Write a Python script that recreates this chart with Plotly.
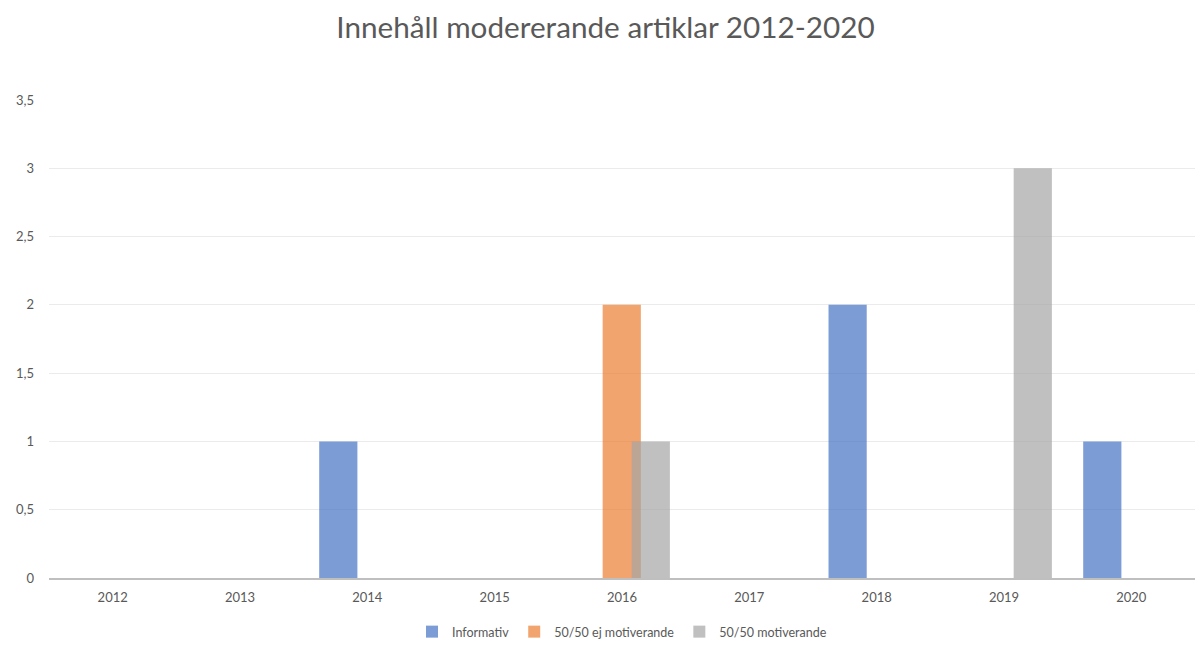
import plotly.graph_objects as go

years = ["2012", "2013", "2014", "2015", "2016", "2017", "2018", "2019", "2020"]
informativ = [0, 0, 1, 0, 0, 0, 2, 0, 1]
ej_motiverande = [0, 0, 0, 0, 2, 0, 0, 0, 0]
motiverande = [0, 0, 0, 0, 1, 0, 0, 3, 0]
y_ticks = [0, 0.5, 1, 1.5, 2, 2.5, 3, 3.5]

series = [
    ("Informativ", informativ, "rgba(68,114,196,0.7)", -0.378),
    ("50/50 ej motiverande", ej_motiverande, "rgba(237,125,49,0.7)", -0.152),
    ("50/50 motiverande", motiverande, "rgba(165,165,165,0.7)", 0.076),
]

fig = go.Figure()
for name, vals, color, off in series:
    fig.add_trace(go.Bar(
        x=years, y=vals, name=name,
        marker=dict(color=color, line=dict(width=0)),
        width=0.30, offset=off,
    ))

font_family = "Lato, 'Open Sans', sans-serif"
fig.update_layout(
    width=1195, height=642,
    barmode="overlay",
    separators=", ",
    paper_bgcolor="white", plot_bgcolor="white",
    margin=dict(l=41, r=8, t=92, b=72, autoexpand=False),
    title=dict(text="Innehåll modererande artiklar 2012-2020",
               x=0.5, xanchor="center", y=0.969, yanchor="middle",
               font=dict(family=font_family, size=29.7, color="#595959")),
    font=dict(family=font_family, color="#595959", size=13),
    legend=dict(orientation="h", x=0.5, xanchor="center", y=-0.113, yanchor="middle",
                font=dict(size=12.5, color="#595959"), itemwidth=30, traceorder="normal"),
    xaxis=dict(type="category", showgrid=False, showline=True, linecolor="#BFBFBF",
               linewidth=1.5, ticks="", tickfont=dict(size=13, color="#595959"),
               ticklabelstandoff=7, range=[-0.5, 8.5], automargin=False),
    yaxis=dict(range=[0, 3.5], tickvals=y_ticks, showgrid=True, gridcolor="#EBEBEB",
               gridwidth=1, zeroline=False, showline=False, ticks="",
               ticklabelstandoff=14, tickfont=dict(size=13, color="#595959"),
               automargin=False),
)

fig.write_html("out.html")
